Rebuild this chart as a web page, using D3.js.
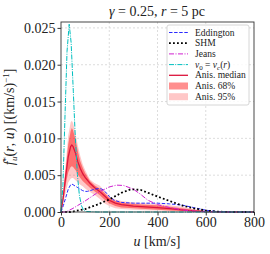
<!DOCTYPE html>
<html lang="en">
<head>
<meta charset="UTF-8">
<title>f_u(r,u)</title>
<script src="https://cdn.jsdelivr.net/npm/d3@7"></script>
<style>
  body { margin: 0; background: #fff; }
  svg text { font-family: "Liberation Serif", "DejaVu Serif", serif; fill: #222; }
  .grid line { stroke: #d4d4d4; stroke-width: 0.8; stroke-dasharray: 2,2; }
  .axis path, .axis line { stroke: #333; }
</style>
</head>
<body>
<div id="chart"></div>
<script>
// --- data ---
var uBand = [0, 10, 20, 30, 40, 45, 50, 60, 70, 80, 90, 100, 120, 140, 160, 180, 200, 225, 250, 300, 350, 400, 450, 500, 550, 600, 650, 700, 800];
var anisMedian = [0, .0022, .0050, .0075, .0089, .0091, .0089, .0080, .0068, .0059, .0052, .0047, .0039, .0033, .0028, .0022, .0016, .0012, .0010, .0008, .0007, .0006, .00045, .0003, .00015, .00006, .00002, 0, 0];
var anisHi95 = [0, .0030, .0068, .0104, .0122, .0124, .0121, .0107, .0090, .0076, .0065, .0057, .0044, .0039, .0036, .0029, .0021, .0017, .0015, .0013, .0012, .0011, .0009, .0007, .0004, .00018, .00005, .00001, 0];
var anisHi68 = [0, .0027, .0060, .0092, .0110, .0114, .0111, .0098, .0082, .0069, .0060, .0053, .0042, .0036, .0032, .0026, .0019, .0015, .0013, .0011, .0010, .0009, .0007, .0005, .0003, .00012, .00003, 0, 0];
var anisLo68 = [0, .0016, .0038, .0054, .0061, .0062, .0061, .0057, .0051, .0046, .0042, .0039, .0033, .0028, .0023, .0017, .0012, .0008, .0006, .0005, .0004, .0003, .00022, .00015, .00007, .00003, 0, 0, 0];
var anisLo95 = [0, .0012, .0028, .0040, .0045, .0046, .0046, .0043, .0040, .0037, .0035, .0032, .0027, .0023, .0018, .0012, .0008, .0005, .0004, .0003, .00025, .0002, .00015, .0001, .00005, .00002, 0, 0, 0];

var uEdd = [0, 10, 20, 30, 40, 45, 50, 60, 70, 80, 90, 100, 110, 120, 140, 160, 170, 185, 200, 220, 250, 300, 350, 400, 450, 500, 550, 600, 650, 700, 800];
var eddington = [0, .0009, .0020, .0031, .0037, .0038, .0037, .0035, .0033, .0031, .0029, .0028, .0028, .0029, .0031, .0032, .0031, .0027, .0021, .0016, .0013, .0012, .0012, .0012, .0011, .00095, .0006, .00025, .00005, 0, 0];

var uShm = [0, 40, 100, 150, 200, 250, 290, 330, 400, 450, 500, 550, 600, 650, 700, 800];
var shm = [0, 0, .0004, .0010, .0017, .0026, .0031, .0030, .0021, .0015, .0009, .0005, .0002, .00005, 0, 0];

var uJeans = [0, 20, 50, 100, 150, 200, 230, 260, 300, 330, 360, 400, 450, 500, 550, 600, 650, 800];
var jeans = [0, 0, .0005, .0015, .0026, .0034, .00365, .0036, .0031, .0024, .0016, .0010, .0006, .0003, .00012, .00004, 0, 0];

var uCirc = [0, 8, 17, 25, 34, 42, 51, 59, 68, 76, 85, 93, 102, 150, 800];
var vCirc = [0, .0036, .0135, .0218, .0255, .0230, .0164, .0103, .0051, .0023, .00084, .00029, .00008, 0, 0];

var xTicks = [0, 200, 400, 600, 800];
var yTicks = [0, 0.005, 0.010, 0.015, 0.020, 0.025];

var W = 270, H = 254;
var svg = d3.select('#chart').append('svg').attr('width', W).attr('height', H);

var x = d3.scaleLinear().domain([0, 800]).range([61, 254]);
var y = d3.scaleLinear().domain([0, 0.0258]).range([212, 22]);

// grid
svg.append('g').attr('class', 'grid')
  .selectAll('line.v').data(xTicks.slice(1, -1)).enter().append('line')
  .attr('x1', d => x(d)).attr('x2', d => x(d)).attr('y1', y.range()[0]).attr('y2', y.range()[1]);
svg.select('.grid')
  .selectAll('line.h').data(yTicks.slice(1)).enter().append('line')
  .attr('y1', d => y(d)).attr('y2', d => y(d)).attr('x1', x.range()[0]).attr('x2', x.range()[1]);

function pts(us, vs) { return us.map((u, i) => [u, vs[i]]); }
var line = d3.line().x(d => x(d[0])).y(d => y(d[1]));
var area = d3.area().x(d => x(d.u)).y0(d => y(d.lo)).y1(d => y(d.hi));

var plot = svg.append('g');
var band95 = uBand.map((u, i) => ({u: u, lo: anisLo95[i], hi: anisHi95[i]}));
var band68 = uBand.map((u, i) => ({u: u, lo: anisLo68[i], hi: anisHi68[i]}));
plot.append('path').attr('d', area(band95)).attr('fill', 'red').attr('fill-opacity', 0.22);
plot.append('path').attr('d', area(band68)).attr('fill', 'red').attr('fill-opacity', 0.44);
plot.append('path').attr('d', line(pts(uBand, anisMedian))).attr('fill', 'none')
  .attr('stroke', '#dc143c').attr('stroke-width', 1.3);

plot.append('path').attr('d', line(pts(uEdd, eddington))).attr('fill', 'none')
  .attr('stroke', '#2a2aff').attr('stroke-width', 1).attr('stroke-dasharray', '3.5,1.6');
plot.append('path').attr('d', line(pts(uShm, shm))).attr('fill', 'none')
  .attr('stroke', '#000').attr('stroke-width', 1.8).attr('stroke-dasharray', '1.8,2.2');
plot.append('path').attr('d', line(pts(uJeans, jeans))).attr('fill', 'none')
  .attr('stroke', '#d020d0').attr('stroke-width', 1).attr('stroke-dasharray', '5,1.5,1,1.5');
plot.append('path').attr('d', line(pts(uCirc, vCirc))).attr('fill', 'none')
  .attr('stroke', '#00bfbf').attr('stroke-width', 1).attr('stroke-dasharray', '5,1.2,1,1.2');

// axes
svg.append('g').attr('class', 'axis').attr('transform', 'translate(0,212)')
  .call(d3.axisBottom(x).tickValues(xTicks).tickSize(3.5).tickPadding(2).tickFormat(d3.format('d')));
svg.append('g').attr('class', 'axis').attr('transform', 'translate(61,0)')
  .call(d3.axisLeft(y).tickValues(yTicks).tickSize(3.5).tickPadding(2).tickFormat(d3.format('.3f')));
svg.selectAll('.axis text').attr('font-size', 14).style('font-family', '"Liberation Serif", serif');
svg.selectAll('.axis .domain').remove();

// frame
svg.append('rect').attr('x', 61).attr('y', 22).attr('width', 193).attr('height', 190)
  .attr('fill', 'none').attr('stroke', '#333').attr('stroke-width', 0.9);

// title
var title = svg.append('text').attr('x', 157).attr('y', 16).attr('text-anchor', 'middle').attr('font-size', 14);
title.append('tspan').attr('font-style', 'italic').text('γ');
title.append('tspan').text(' = 0.25,  ');
title.append('tspan').attr('font-style', 'italic').text('r');
title.append('tspan').text(' = 5 pc');

// x label
var xl = svg.append('text').attr('x', 157).attr('y', 246).attr('text-anchor', 'middle').attr('font-size', 14);
xl.append('tspan').attr('font-style', 'italic').text('u');
xl.append('tspan').text(' [km/s]');

// y label
var yl = svg.append('text').attr('transform', 'translate(14,117) rotate(-90)')
  .attr('text-anchor', 'middle').attr('font-size', 14);
yl.append('tspan').attr('font-style', 'italic').text('f');
yl.append('tspan').attr('font-size', 9).attr('dy', -5).text('*');
yl.append('tspan').attr('font-size', 9).attr('font-style', 'italic').attr('dy', 8).attr('dx', -4).text('u');
yl.append('tspan').attr('dy', -3).text('(');
yl.append('tspan').attr('font-style', 'italic').text('r');
yl.append('tspan').text(', ');
yl.append('tspan').attr('font-style', 'italic').text('u');
yl.append('tspan').text(') [(km/s)');
yl.append('tspan').attr('font-size', 9).attr('dy', -5).text('−1');
yl.append('tspan').attr('dy', 5).text(']');

// legend
var leg = svg.append('g').attr('transform', 'translate(167,25)');
leg.append('rect').attr('width', 82).attr('height', 80).attr('rx', 2)
  .attr('fill', '#fff').attr('fill-opacity', 0.85).attr('stroke', '#ccc').attr('stroke-width', 0.8);
var legItems = [
  {label: 'Eddington', stroke: '#2a2aff', dash: '3.5,1.6', w: 1},
  {label: 'SHM', stroke: '#000', dash: '1.8,2.2', w: 1.8},
  {label: 'Jeans', stroke: '#d020d0', dash: '5,1.5,1,1.5', w: 1},
  {label: 'vc', stroke: '#00bfbf', dash: '5,1.2,1,1.2', w: 1},
  {label: 'Anis. median', stroke: '#dc143c', dash: null, w: 1.3},
  {label: 'Anis. 68%', fill: 0.44},
  {label: 'Anis. 95%', fill: 0.22}
];
legItems.forEach(function (d, i) {
  var yy = 7.5 + i * 10.7;
  if (d.fill) {
    leg.append('rect').attr('x', 2).attr('y', yy - 3.5).attr('width', 19).attr('height', 7)
      .attr('fill', 'red').attr('fill-opacity', d.fill);
  } else {
    leg.append('line').attr('x1', 2).attr('x2', 21).attr('y1', yy).attr('y2', yy)
      .attr('stroke', d.stroke).attr('stroke-width', d.w).attr('stroke-dasharray', d.dash);
  }
  var t = leg.append('text').attr('x', 28).attr('y', yy + 3).attr('font-size', 9.5);
  if (d.label === 'vc') {
    t.append('tspan').attr('font-style', 'italic').text('v');
    t.append('tspan').attr('font-size', 7).attr('dy', 2).text('0');
    t.append('tspan').attr('dy', -2).text(' = ');
    t.append('tspan').attr('font-style', 'italic').text('v');
    t.append('tspan').attr('font-size', 7).attr('font-style', 'italic').attr('dy', 2).text('c');
    t.append('tspan').attr('dy', -2).text('(');
    t.append('tspan').attr('font-style', 'italic').text('r');
    t.append('tspan').text(')');
  } else {
    t.text(d.label);
  }
});
</script>
</body>
</html>
